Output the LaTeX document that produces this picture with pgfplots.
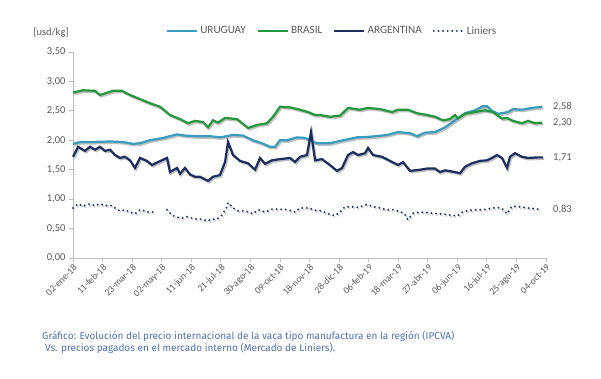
\documentclass[border=0pt]{standalone}
\usepackage{pgfplots}
\pgfplotsset{compat=1.18}
\usepackage{pgfplotstable}
\usepackage{fontspec}
\setmainfont{Carlito}
\newfontfamily\capfont{Fira Sans}
\definecolor{uru}{RGB}{56,156,190}
\definecolor{bra}{RGB}{36,150,60}
\definecolor{arg}{RGB}{28,46,96}
\definecolor{lin}{RGB}{30,50,112}
\definecolor{capblue}{RGB}{80,112,182}
\definecolor{txt}{RGB}{89,89,89}
\definecolor{axgray}{RGB}{191,191,191}

\pgfplotstableread{
d v
0 2.81
13.5 2.85
29.8 2.84
36.5 2.77
54.1 2.84
66.3 2.84
77.1 2.77
90.6 2.70
104.2 2.63
117.7 2.57
131.2 2.43
144.8 2.36
155.6 2.29
165.1 2.33
175.9 2.31
182.7 2.22
189.4 2.34
196.2 2.30
205.7 2.38
221.9 2.36
236.8 2.21
249.0 2.26
262.5 2.29
270.6 2.40
280.1 2.57
293.6 2.56
307.2 2.52
318.0 2.48
327.5 2.43
334.2 2.43
347.7 2.40
361.3 2.42
372.1 2.55
388.3 2.52
399.2 2.55
415.4 2.53
431.6 2.48
439.8 2.52
453.3 2.52
465.5 2.46
479.0 2.43
489.8 2.40
500.6 2.34
510.1 2.36
516.9 2.43
520.9 2.37
530.4 2.45
543.9 2.48
557.5 2.51
568.3 2.48
580.5 2.37
587.2 2.38
595.4 2.33
607.5 2.29
615.6 2.33
625.1 2.29
634.6 2.30
}\brasil

\pgfplotstableread{
d v
0 1.94
9.5 1.97
23 1.97
50 1.98
67.7 1.97
81.2 1.94
90.6 1.95
104.2 2.00
121.8 2.04
140.7 2.10
151.5 2.08
165.1 2.07
185.4 2.07
198.9 2.05
216.5 2.09
230 2.08
243.6 2.00
255.7 1.95
266.6 1.89
273.3 1.89
280.1 2.00
289.6 2.00
303.1 2.05
313.9 2.04
320.7 2.00
330.2 1.95
347.7 1.95
365.3 2.00
384.3 2.05
401.9 2.06
424.9 2.09
439.8 2.14
456 2.12
465.5 2.07
476.3 2.13
489.8 2.14
503.4 2.22
516.9 2.34
530.4 2.46
543.9 2.51
554.8 2.58
560.2 2.58
567 2.50
575.1 2.45
588.6 2.48
595.4 2.53
607.5 2.52
621.1 2.55
634.6 2.57
}\uruguay

\pgfplotstableread{
d v
0 1.72
6.8 1.89
16.2 1.82
23 1.89
29.8 1.84
36.5 1.89
43.3 1.82
50.1 1.84
56.8 1.75
63.6 1.70
70.4 1.72
77.1 1.66
83.9 1.53
90.6 1.70
100.1 1.65
106.9 1.58
115 1.63
127.2 1.70
131.2 1.46
140.7 1.53
144.8 1.43
151.5 1.53
158.3 1.42
165.1 1.38
171.8 1.38
182.7 1.31
189.4 1.38
198.9 1.41
205.7 1.63
209.7 1.97
216.5 1.75
226 1.65
236.8 1.61
246.3 1.50
253 1.70
259.8 1.60
269.3 1.66
280.1 1.68
293.6 1.70
300.4 1.63
307.2 1.72
316.6 1.75
322 2.14
327.5 1.66
336.9 1.68
347.7 1.58
357.2 1.48
364 1.53
372.1 1.75
378.9 1.80
385.6 1.75
395.1 1.78
399.2 1.87
405.9 1.75
418.1 1.72
428.9 1.65
439.8 1.58
446.5 1.63
456 1.48
469.5 1.50
479 1.52
489.8 1.52
496.6 1.46
503.4 1.49
516.9 1.46
523.6 1.44
530.4 1.55
539.9 1.61
550.7 1.65
560.2 1.66
567 1.70
573.7 1.75
580.5 1.70
587.2 1.53
591.3 1.72
598.1 1.78
607.5 1.72
615.6 1.70
629.2 1.71
636 1.71
}\argentina

\pgfplotstableread{
d v
0 0.85
6.8 0.92
13.5 0.88
23 0.92
29.8 0.89
36.5 0.92
43.3 0.89
50.1 0.90
56.8 0.85
63.6 0.80
70.4 0.82
77.1 0.78
83.9 0.75
90.6 0.82
97.4 0.80
104.2 0.77
111 0.79
118 nan
127.2 0.82
134 0.73
140.7 0.69
147.5 0.68
154.3 0.70
161 0.68
167.8 0.66
174.5 0.66
181.3 0.63
188.1 0.66
194.8 0.66
201.6 0.73
208.4 0.87
209.7 0.94
216.5 0.85
223.3 0.80
232.7 0.80
243.6 0.75
250.3 0.82
259.8 0.78
269.3 0.83
280.1 0.83
290.9 0.82
300.4 0.78
307.2 0.85
318 0.85
327.5 0.81
336.9 0.80
345 0.75
354.5 0.72
361.3 0.78
368 0.87
377.5 0.87
385.6 0.86
397.8 0.91
405.9 0.87
415.4 0.85
424.9 0.82
433 0.82
442.5 0.79
449.2 0.74
453.3 0.65
460 0.76
469.5 0.78
479 0.77
487.1 0.76
496.6 0.75
506.1 0.74
514.2 0.72
520.9 0.72
527.7 0.79
537.2 0.81
546.6 0.82
554.8 0.82
564.2 0.84
573.7 0.86
580.5 0.84
587.2 0.75
594 0.88
604.8 0.87
614.3 0.85
622.4 0.84
629.2 0.83
}\liniers

\begin{document}
\begin{tikzpicture}
\path[use as bounding box] (0,0) rectangle (601bp,-379bp);
\begin{axis}[
  at={(73bp,-258bp)}, anchor=south west,
  scale only axis, width=473bp, height=206bp,
  xmin=0, xmax=640, ymin=0, ymax=3.5,
  axis lines*=left,
  axis line style={draw=axgray, line width=0.8bp},
  tick style={draw=axgray, line width=0.8bp},
  tick align=outside, major tick length=4bp,
  xtick={0,40,...,640},
  xticklabels={02-ene-18,11-feb-18,23-mar-18,02-may-18,11-jun-18,21-jul-18,30-ago-18,09-oct-18,18-nov-18,28-dic-18,06-feb-19,18-mar-19,27-abr-19,06-jun-19,16-jul-19,25-ago-19,04-oct-19},
  xticklabel style={rotate=45, anchor=north east, font=\fontsize{9.5bp}{10bp}\selectfont, text=txt, inner sep=1bp},
  ytick={0,0.5,...,3.5},
  yticklabel style={font=\fontsize{10.5bp}{12bp}\selectfont, text=txt},
  /pgf/number format/assume math mode=true,
  yticklabel={\pgfmathprintnumber[fixed, fixed zerofill, precision=2, use comma]{\tick}},
  unbounded coords=jump,
  clip=false,
  legend columns=4,
  legend style={at={(0.548,1.102)}, anchor=center, draw=none, fill=none,
    font=\fontsize{11.2bp}{12bp}\selectfont, text=txt,
    /tikz/every even column/.append style={column sep=9bp}},
  legend image code/.code={\draw[#1] (0bp,0bp) -- (30bp,0bp);},
]
% shadows
\addplot[forget plot, black!25, line width=2.2bp, shift={(1.2bp,-1.5bp)}] table[x=d,y=v]{\uruguay};
\addplot[forget plot, black!25, line width=2.2bp, shift={(1.2bp,-1.5bp)}] table[x=d,y=v]{\brasil};
\addplot[forget plot, black!25, line width=2.2bp, shift={(1.2bp,-1.5bp)}] table[x=d,y=v]{\argentina};
\addplot[forget plot, black!18, line width=2.3bp, line cap=round, dash pattern=on 0pt off 4.6bp, shift={(1.2bp,-1.5bp)}] table[x=d,y=v]{\liniers};
% series
\addplot[uru, line width=2.2bp] table[x=d,y=v]{\uruguay};
\addlegendentry{URUGUAY}
\addplot[bra, line width=2.2bp] table[x=d,y=v]{\brasil};
\addlegendentry{BRASIL}
\addplot[arg, line width=2.2bp] table[x=d,y=v]{\argentina};
\addlegendentry{ARGENTINA}
\addplot[lin, line width=2.2bp, line cap=round, dash pattern=on 0pt off 4.6bp] table[x=d,y=v]{\liniers};
\addlegendentry{Liniers}
\node[anchor=west, text=txt, font=\fontsize{10.5bp}{12bp}\selectfont] at (axis cs:645,2.58) {2,58};
\node[anchor=west, text=txt, font=\fontsize{10.5bp}{12bp}\selectfont] at (axis cs:645,2.30) {2,30};
\node[anchor=west, text=txt, font=\fontsize{10.5bp}{12bp}\selectfont] at (axis cs:645,1.71) {1,71};
\node[anchor=west, text=txt, font=\fontsize{10.5bp}{12bp}\selectfont] at (axis cs:645,0.83) {0,83};
\end{axis}
\node[text=txt, font=\fontsize{10.5bp}{12bp}\selectfont] at (51bp,-33bp) {[usd/kg]};
\node[anchor=base west, inner sep=0, text=capblue, font=\capfont\fontsize{10bp}{11bp}\selectfont] at (42bp,-339bp) {Gráfico: Evolución del precio internacional de la vaca tipo manufactura en la región (IPCVA)};
\node[anchor=base west, inner sep=0, text=capblue, font=\capfont\fontsize{10bp}{11bp}\selectfont] at (45bp,-351bp) {Vs. precios pagados en el mercado interno (Mercado de Liniers).};
\end{tikzpicture}
\end{document}
